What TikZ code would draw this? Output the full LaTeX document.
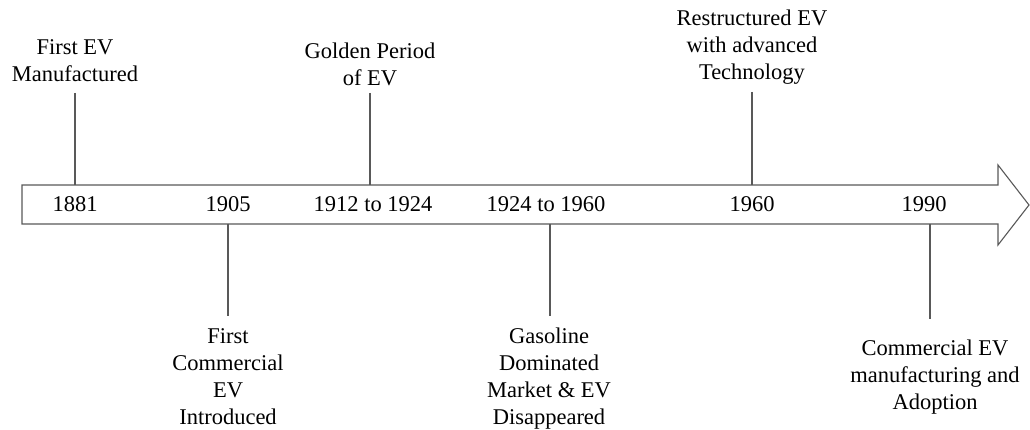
\documentclass[tikz,border=0pt]{standalone}
\usepackage{fontspec}
\setmainfont{Liberation Serif}
\begin{document}
\begin{tikzpicture}[x=1pt,y=-1pt,
  lbl/.style={align=center,anchor=north,inner sep=0pt,font=\fontsize{22.5}{27}\selectfont,text=black},
  yr/.style={anchor=base,inner sep=0pt,font=\fontsize{22.5}{27}\selectfont,text=black},
  conn/.style={draw=black!65,line width=1.1pt},
  arr/.style={draw=black!65,line width=1.1pt,fill=white,line join=miter}]
\path[use as bounding box] (0,0) rectangle (1030,430);
% arrow
\draw[arr] (22,185) -- (998,185) -- (998,165) -- (1029,205) -- (998,245) -- (998,224) -- (22,224) -- cycle;
% attachment points
\coordinate (t1) at (75,185);
\coordinate (t2) at (370,185);
\coordinate (t3) at (752,185);
\coordinate (b1) at (228,224);
\coordinate (b2) at (550,224);
\coordinate (b3) at (930,224);
% years
\node[yr] (y1) at (75,212) {1881};
\node[yr] (y2) at (228,212) {1905};
\node[yr] (y3) at (373,212) {1912 to 1924};
\node[yr] (y4) at (546,212) {1924 to 1960};
\node[yr] (y5) at (752,212) {1960};
\node[yr] (y6) at (924,212) {1990};
% top labels
\node[lbl] (l1) at (75,35.1) {\strut First EV\\\strut Manufactured};
\node[lbl] (l2) at (370,39.1) {\strut Golden Period\\\strut of EV};
\node[lbl] (l3) at (752,6.1) {\strut Restructured EV\\\strut with advanced\\\strut Technology};
% bottom labels
\node[lbl] (l4) at (228,324.1) {\strut First\\\strut Commercial\\\strut EV\\\strut Introduced};
\node[lbl] (l5) at (549,324.1) {\strut Gasoline\\\strut Dominated\\\strut Market \& EV\\\strut Disappeared};
\node[lbl] (l6) at (935,336.1) {\strut Commercial EV\\\strut manufacturing and\\\strut Adoption};
% connectors
\draw[conn] (t1 |- 0,93) coordinate (c1) -- (t1);
\draw[conn] (t2 |- 0,93) coordinate (c2) -- (t2);
\draw[conn] (t3 |- 0,92) coordinate (c3) -- (t3);
\draw[conn] (b1) -- (b1 |- 0,316) coordinate (c4);
\draw[conn] (b2) -- (b2 |- 0,316) coordinate (c5);
\draw[conn] (b3) -- (b3 |- 0,319) coordinate (c6);
\end{tikzpicture}
\end{document}
